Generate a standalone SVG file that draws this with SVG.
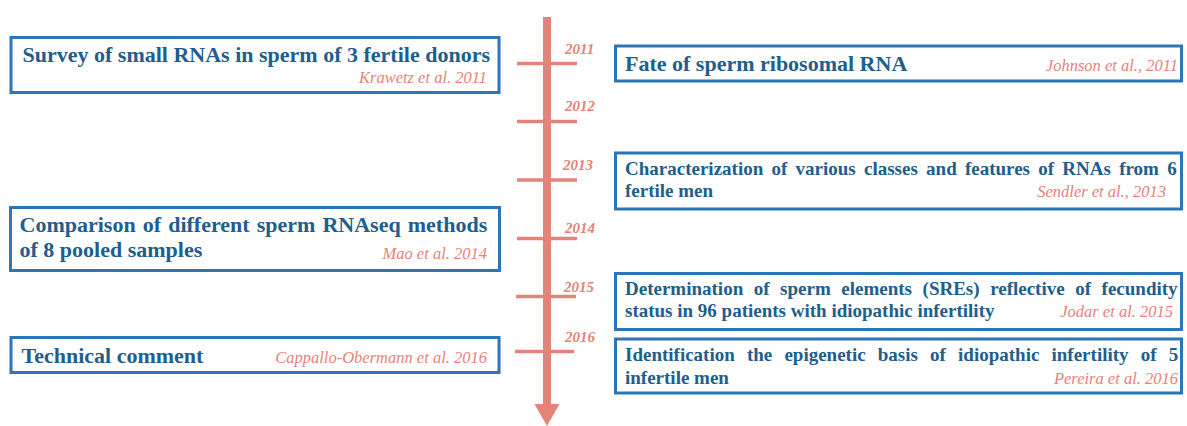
<svg xmlns="http://www.w3.org/2000/svg" width="1187" height="426" viewBox="0 0 1187 426">
<style>
.box{fill:#fff;stroke:#2E75B6;stroke-width:3}
.t{font-family:'Liberation Serif','DejaVu Serif',serif;font-weight:bold;fill:#215E8C}
.l{font-size:22px}
.r{font-size:19px}
.c{font-family:'Liberation Serif','DejaVu Serif',serif;font-style:italic;font-size:16.5px;fill:#E8827A;text-anchor:end}
.y{font-family:'Liberation Serif','DejaVu Serif',serif;font-style:italic;font-weight:bold;font-size:15px;fill:#E3837A}
.tick{stroke:#E3837A;stroke-width:3.5}
</style>
<rect width="1187" height="426" fill="#fff"/>
<g id="timeline">
<rect x="543" y="17" width="8" height="388" fill="#E3837A"/>
<polygon points="534.5,404 559.5,404 547,426" fill="#E3837A"/>
<line class="tick" x1="517" y1="63.5" x2="577" y2="63.5"/>
<line class="tick" x1="517" y1="121.5" x2="577" y2="121.5"/>
<line class="tick" x1="517" y1="180" x2="577" y2="180"/>
<line class="tick" x1="517" y1="238.5" x2="577" y2="238.5"/>
<line class="tick" x1="516" y1="296.5" x2="576" y2="296.5"/>
<line class="tick" x1="515" y1="351.5" x2="574" y2="351.5"/>
<text class="y" x="565" y="54">2011</text>
<text class="y" x="565" y="111">2012</text>
<text class="y" x="563" y="170">2013</text>
<text class="y" x="565" y="232.5">2014</text>
<text class="y" x="564" y="292">2015</text>
<text class="y" x="565" y="341.5">2016</text>
</g>
<g id="node-krawetz">
<rect class="box" x="11" y="37.5" width="488" height="55"/>
<text class="t l" x="22.5" y="62">Survey of small RNAs in sperm of 3 fertile donors</text>
<text class="c" x="487" y="83">Krawetz et al. 2011</text>
</g>
<g id="node-mao">
<rect class="box" x="10.5" y="207.5" width="489" height="63"/>
<text class="t l" x="19.5" y="232" word-spacing="1.6">Comparison of different sperm RNAseq methods</text>
<text class="t l" x="19.5" y="257">of 8 pooled samples</text>
<text class="c" x="487" y="259">Mao et al. 2014</text>
</g>
<g id="node-cappallo">
<rect class="box" x="11" y="337.5" width="488" height="35"/>
<text class="t l" x="21.5" y="363">Technical comment</text>
<text class="c" x="487" y="363">Cappallo-Obermann et al. 2016</text>
</g>
<g id="node-johnson">
<rect class="box" x="615.5" y="46" width="566" height="35"/>
<text class="t l" x="625" y="71">Fate of sperm ribosomal RNA</text>
<text class="c" x="1178" y="71">Johnson et al., 2011</text>
</g>
<g id="node-sendler">
<rect class="box" x="615.5" y="153" width="566" height="56"/>
<text class="t r" x="625" y="175" word-spacing="3.5">Characterization of various classes and features of RNAs from 6</text>
<text class="t r" x="625" y="197">fertile men</text>
<text class="c" x="1166" y="197">Sendler et al., 2013</text>
</g>
<g id="node-jodar">
<rect class="box" x="615.5" y="273.5" width="566" height="56"/>
<text class="t r" x="625" y="295" word-spacing="5.8">Determination of sperm elements (SREs) reflective of fecundity</text>
<text class="t r" x="625" y="317">status in 96 patients with idiopathic infertility</text>
<text class="c" x="1173" y="317">Jodar et al. 2015</text>
</g>
<g id="node-pereira">
<rect class="box" x="615.5" y="339" width="566" height="54"/>
<text class="t r" x="625" y="361" word-spacing="7.4">Identification the epigenetic basis of idiopathic infertility of 5</text>
<text class="t r" x="625" y="384">infertile men</text>
<text class="c" x="1178" y="384">Pereira et al. 2016</text>
</g>
<g id="connectors"></g>
</svg>
